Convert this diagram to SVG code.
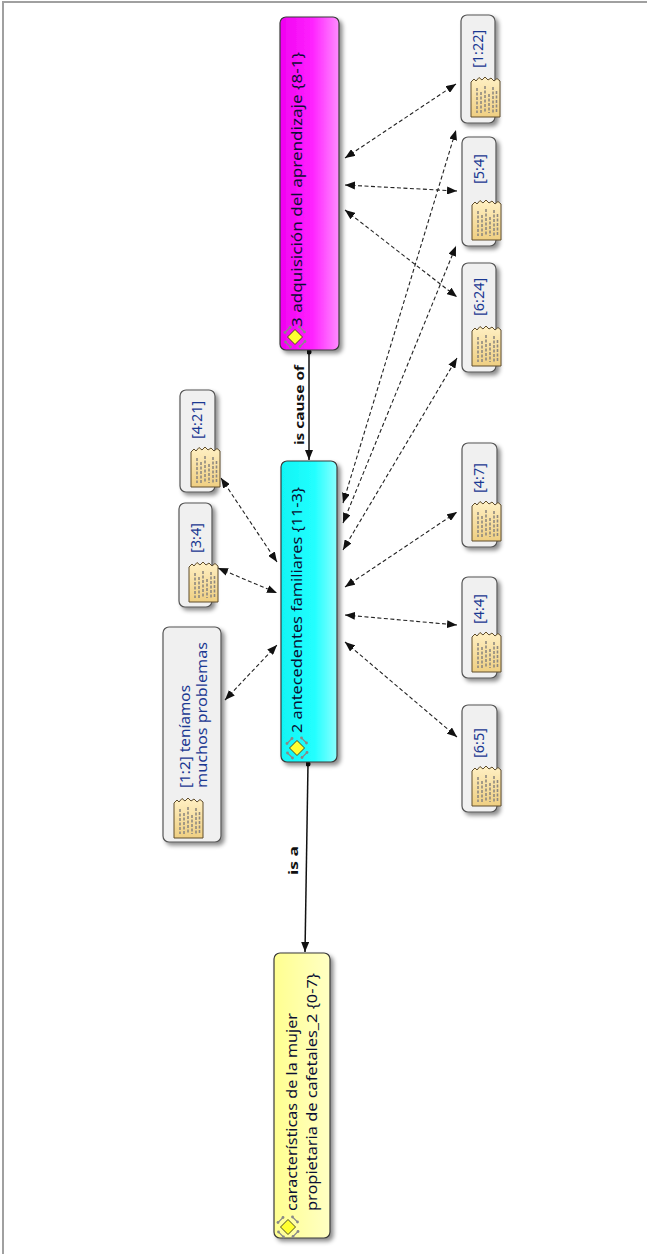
<svg xmlns="http://www.w3.org/2000/svg" xmlns:xlink="http://www.w3.org/1999/xlink" width="647" height="1254" viewBox="0 0 647 1254">
<style>
.frame{stroke:#a0a0a0;stroke-width:2;fill:none}
.node{stroke:#3a3a3a;stroke-width:1.2}
.quote{fill:#f0f0f0;stroke:#555;stroke-width:1.2}
.lbl{font-family:"Noto Sans","DejaVu Sans",sans-serif;font-size:14px;fill:#0a0f33}
.qlbl{font-family:"Noto Sans","DejaVu Sans",sans-serif;font-size:14.5px;fill:#1a3892}
.elbl{font-family:"Noto Sans","DejaVu Sans",sans-serif;font-size:13px;font-weight:bold;fill:#111}
.dash{stroke:#222;stroke-width:1.1;fill:none;stroke-dasharray:4 2.5;marker-start:url(#ah);marker-end:url(#ah)}
.solid{stroke:#111;stroke-width:1.5;fill:none;marker-start:url(#dot);marker-end:url(#ah2)}
</style>
<defs>
<filter id="sh" x="-20%" y="-5%" width="150%" height="115%">
<feDropShadow dx="3" dy="3" stdDeviation="2" flood-color="#000" flood-opacity="0.45"/>
</filter>
<linearGradient id="gMag" x1="0" y1="0" x2="1" y2="0">
<stop offset="0" stop-color="#f000f0"/><stop offset="0.55" stop-color="#ff22ff"/><stop offset="1" stop-color="#ff8cff"/>
</linearGradient>
<linearGradient id="gCyan" x1="0" y1="0" x2="1" y2="0">
<stop offset="0" stop-color="#10f4f4"/><stop offset="0.6" stop-color="#22ffff"/><stop offset="1" stop-color="#8affff"/>
</linearGradient>
<linearGradient id="gYel" x1="0" y1="0" x2="1" y2="0">
<stop offset="0" stop-color="#ffff90"/><stop offset="1" stop-color="#ffffc4"/>
</linearGradient>
<linearGradient id="gDoc" x1="0" y1="0" x2="0" y2="1">
<stop offset="0" stop-color="#fff0c4"/><stop offset="1" stop-color="#efcf82"/>
</linearGradient>
<marker id="ah" viewBox="0 0 10 8" refX="10" refY="4" markerWidth="10" markerHeight="8" markerUnits="userSpaceOnUse" orient="auto-start-reverse">
<path d="M0,0 L10,4 L0,8 Z" fill="#111"/>
</marker>
<marker id="ah2" viewBox="0 0 10 8" refX="10" refY="4" markerWidth="10" markerHeight="8" markerUnits="userSpaceOnUse" orient="auto">
<path d="M0,0 L10,4 L0,8 Z" fill="#111"/>
</marker>
<marker id="dot" viewBox="0 0 6 6" refX="3" refY="3" markerWidth="5" markerHeight="5" markerUnits="userSpaceOnUse">
<circle cx="3" cy="3" r="3" fill="#111"/>
</marker>
<g id="doc">
<path d="M0,6 L3,3 L5,5 L8,1.5 L11,4 L14,1 L17,4 L20,2 L23,5 L26,2.5 L29,5 L29,41 L0,41 Z" fill="url(#gDoc)" stroke="#5e4c2c" stroke-width="1"/>
<g stroke="#8f897f" stroke-width="1.6" stroke-dasharray="3 1.5">
<line x1="6" y1="12" x2="6" y2="37"/>
<line x1="10" y1="16" x2="10" y2="37"/>
<line x1="14" y1="10" x2="14" y2="37"/>
<line x1="18" y1="18" x2="18" y2="37"/>
<line x1="22" y1="11" x2="22" y2="37"/>
<line x1="25.5" y1="15" x2="25.5" y2="37"/>
</g>
</g>
<g id="code">
<g stroke="#8a8a8a" stroke-width="1.1" fill="none">
<path d="M-10,-4.5 L-5,-9.5 M4.5,-10 L9.5,-5 M10,4.5 L5,9.5 M-4.5,10 L-9.5,5"/>
</g>
<g fill="#888">
<circle cx="-10" cy="-4.5" r="1.4"/><circle cx="-5" cy="-9.5" r="1.4"/>
<circle cx="4.5" cy="-10" r="1.4"/><circle cx="9.5" cy="-5" r="1.4"/>
<circle cx="10" cy="4.5" r="1.4"/><circle cx="5" cy="9.5" r="1.4"/>
<circle cx="-4.5" cy="10" r="1.4"/><circle cx="-9.5" cy="5" r="1.4"/>
</g>
<polygon points="0,-7.5 7.5,0 0,7.5 -7.5,0" fill="#ffff30" stroke="#4a4a20" stroke-width="1"/>
</g>
</defs>

<rect x="0" y="0" width="647" height="1254" fill="#ffffff"/>
<path class="frame" d="M3,1254 L3,2 L647,2"/>

<g id="connectors">
<line class="solid" x1="309" y1="352" x2="309" y2="460"/>
<text class="elbl" transform="translate(304,445) rotate(-90)" textLength="80" lengthAdjust="spacingAndGlyphs">is cause of</text>
<line class="solid" x1="308" y1="764" x2="305" y2="952"/>
<text class="elbl" transform="translate(298,875) rotate(-90)" textLength="29" lengthAdjust="spacingAndGlyphs">is a</text>

<line class="dash" x1="345" y1="158" x2="456" y2="84"/>
<line class="dash" x1="345" y1="185" x2="457" y2="191"/>
<line class="dash" x1="345" y1="210" x2="457" y2="297"/>
<line class="dash" x1="343" y1="503" x2="456" y2="130"/>
<line class="dash" x1="343" y1="523" x2="456" y2="246"/>
<line class="dash" x1="343" y1="550" x2="457" y2="358"/>
<line class="dash" x1="221" y1="478" x2="277" y2="562"/>
<line class="dash" x1="218" y1="568" x2="277" y2="593"/>
<line class="dash" x1="225" y1="700" x2="277" y2="645"/>
<line class="dash" x1="345" y1="587" x2="457" y2="512"/>
<line class="dash" x1="345" y1="615" x2="457" y2="625"/>
<line class="dash" x1="345" y1="642" x2="457" y2="737"/>
</g>

<g id="n-adquisicion">
<rect class="node" x="280" y="17" width="59" height="333" rx="6" fill="url(#gMag)" filter="url(#sh)"/>
<use href="#code" x="295" y="337"/>
<text class="lbl" transform="translate(302,327) rotate(-90)" textLength="275" lengthAdjust="spacingAndGlyphs">3 adquisición del aprendizaje {8-1}</text>
</g>

<g id="n-antecedentes">
<rect class="node" x="281" y="461" width="56" height="301" rx="6" fill="url(#gCyan)" filter="url(#sh)"/>
<use href="#code" x="297" y="748"/>
<text class="lbl" transform="translate(302,733) rotate(-90)" textLength="246" lengthAdjust="spacingAndGlyphs">2 antecedentes familiares {11-3}</text>
</g>

<g id="n-caracteristicas">
<rect class="node" x="274" y="953" width="56" height="285" rx="6" fill="url(#gYel)" filter="url(#sh)"/>
<use href="#code" x="288" y="1227"/>
<text class="lbl" transform="translate(297,1211) rotate(-90)" textLength="198" lengthAdjust="spacingAndGlyphs">características de la mujer</text>
<text class="lbl" transform="translate(317,1211) rotate(-90)" textLength="238" lengthAdjust="spacingAndGlyphs">propietaria de cafetales_2 {0-7}</text>
</g>

<g id="q-1-22">
<rect class="quote" x="461" y="15" width="34" height="108" rx="6" filter="url(#sh)"/>
<use href="#doc" x="471" y="76"/>
<text class="qlbl" transform="translate(483,68) rotate(-90)">[1:22]</text>
</g>
<g id="q-5-4">
<rect class="quote" x="462" y="137" width="34" height="109" rx="6" filter="url(#sh)"/>
<use href="#doc" x="472" y="199"/>
<text class="qlbl" transform="translate(484,184) rotate(-90)">[5:4]</text>
</g>
<g id="q-6-24">
<rect class="quote" x="462" y="263" width="34" height="109" rx="6" filter="url(#sh)"/>
<use href="#doc" x="472" y="325"/>
<text class="qlbl" transform="translate(484,316) rotate(-90)">[6:24]</text>
</g>
<g id="q-4-7">
<rect class="quote" x="462" y="443" width="35" height="104" rx="6" filter="url(#sh)"/>
<use href="#doc" x="472" y="500"/>
<text class="qlbl" transform="translate(484,493) rotate(-90)">[4:7]</text>
</g>
<g id="q-4-4">
<rect class="quote" x="462" y="577" width="35" height="101" rx="6" filter="url(#sh)"/>
<use href="#doc" x="472" y="631"/>
<text class="qlbl" transform="translate(484,624) rotate(-90)">[4:4]</text>
</g>
<g id="q-6-5">
<rect class="quote" x="462" y="705" width="35" height="107" rx="6" filter="url(#sh)"/>
<use href="#doc" x="472" y="765"/>
<text class="qlbl" transform="translate(484,758) rotate(-90)">[6:5]</text>
</g>
<g id="q-4-21">
<rect class="quote" x="180" y="390" width="35" height="102" rx="6" filter="url(#sh)"/>
<use href="#doc" x="191" y="446"/>
<text class="qlbl" transform="translate(202,439) rotate(-90)">[4:21]</text>
</g>
<g id="q-3-4">
<rect class="quote" x="179" y="503" width="33" height="104" rx="6" filter="url(#sh)"/>
<use href="#doc" x="189" y="561"/>
<text class="qlbl" transform="translate(201,553) rotate(-90)">[3:4]</text>
</g>
<g id="q-1-2">
<rect class="quote" x="163" y="627" width="58" height="215" rx="6" filter="url(#sh)"/>
<use href="#doc" x="174" y="797"/>
<text class="qlbl" transform="translate(190,788) rotate(-90)" textLength="103" lengthAdjust="spacingAndGlyphs">[1:2] teníamos</text>
<text class="qlbl" transform="translate(207,788) rotate(-90)" textLength="146" lengthAdjust="spacingAndGlyphs">muchos problemas</text>
</g>
</svg>
